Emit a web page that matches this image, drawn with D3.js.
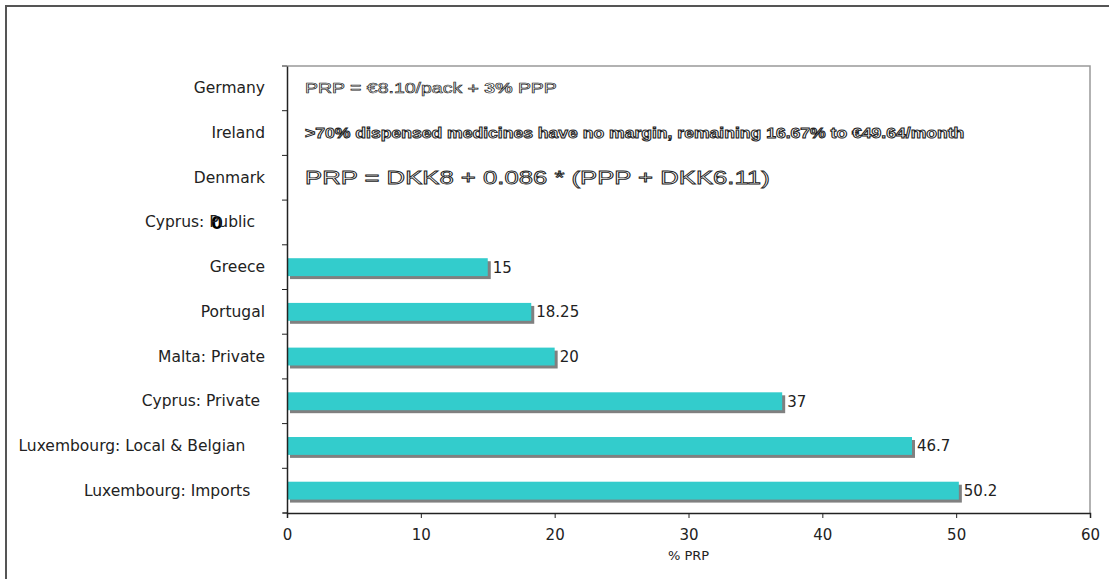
<!DOCTYPE html>
<html><head><meta charset="utf-8">
<script src="https://cdn.jsdelivr.net/npm/d3@7"></script>
<style>body{margin:0;background:#fff}svg{display:block}text{white-space:pre}</style>
</head><body>
<script>
const categories = ["Germany","Ireland","Denmark","Cyprus: Public  ","Greece","Portugal","Malta: Private","Cyprus: Private ","Luxembourg: Local & Belgian    ","Luxembourg: Imports   "];
const values = [null,null,null,0,15,18.25,20,37,46.7,50.2];
const valueLabels = [null,null,null,"0","15","18.25","20","37","46.7","50.2"];
const xTicks = [0,10,20,30,40,50,60];
const xTitle = "% PRP";
const notes = [
  {cat:"Germany", parts:[["PRP = €8.10/pack + ",false],["3%",true],[" PPP",false]], size:14, width:252},
  {cat:"Ireland", parts:[[">70% dispensed medicines have no margin, remaining 16.67% to €49.64/month",true]], size:14, width:660},
  {cat:"Denmark", parts:[["PRP = DKK8 + 0.086 * (PPP + DKK6.11)",false]], size:18, width:465}
];

const W=1109,H=579;
const m={l:287,t:66,r:W-1090,b:H-513};
const svg=d3.select("body").append("svg").attr("width",W).attr("height",H);
svg.append("rect").attr("x",6).attr("y",6).attr("width",W+10).attr("height",H+10)
  .attr("fill","none").attr("stroke","#555").attr("stroke-width",2);

const x=d3.scaleLinear().domain([0,60]).range([m.l,W-m.r]);
const y=d3.scaleBand().domain(categories).range([m.t,H-m.b]).paddingInner(0.6).paddingOuter(0.3);
const yb=d3.scaleBand().domain(categories).range([m.t,H-m.b]);

svg.append("path").attr("d",`M${m.l},${m.t}H${W-m.r}V${H-m.b}`).attr("fill","none").attr("stroke","#999").attr("stroke-width",1.5);

const font="DejaVu Sans, Verdana, sans-serif";
const data=categories.map((c,i)=>({c,v:values[i],l:valueLabels[i]}));
const bars=data.filter(d=>d.v!==null&&d.v>0);
svg.selectAll("rect.sh").data(bars).join("rect").attr("class","sh")
  .attr("x",x(0)+3).attr("y",d=>y(d.c)+3).attr("width",d=>x(d.v)-x(0)).attr("height",y.bandwidth())
  .attr("fill","#808080");
svg.selectAll("rect.bar").data(bars).join("rect").attr("class","bar")
  .attr("x",x(0)+1).attr("y",d=>y(d.c)).attr("width",d=>x(d.v)-x(0)-1).attr("height",y.bandwidth())
  .attr("fill","#33CCCC");
svg.selectAll("text.vl").data(bars).join("text").attr("class","vl")
  .attr("x",d=>x(d.v)+5).attr("y",d=>y(d.c)+y.bandwidth()/2).attr("dy","0.36em")
  .attr("font-family",font).attr("font-size",15).attr("fill","#222").text(d=>d.l);
data.filter(d=>d.v===0).forEach(d=>{
  svg.append("text").attr("x",x(d.v)-70).attr("y",yb(d.c)+yb.bandwidth()/2).attr("dy","0.36em")
    .attr("text-anchor","middle").attr("font-family",font).attr("font-weight","bold")
    .attr("font-size",17).attr("fill","#000").text(d.l);
});

const xa=svg.append("g").attr("transform",`translate(0,${H-m.b})`)
  .call(d3.axisBottom(x).tickValues(xTicks).tickSizeOuter(0).tickSize(5).tickPadding(11));
xa.select(".domain").attr("stroke","#222").attr("stroke-width",1.5);
xa.selectAll("line").attr("stroke","#222");
xa.selectAll("text").attr("font-family",font).attr("font-size",15).attr("fill","#222");
svg.append("line").attr("x1",m.l-4).attr("x2",m.l).attr("y1",H-m.b).attr("y2",H-m.b).attr("stroke","#222");

const ya=svg.append("g").attr("transform",`translate(${m.l},0)`)
  .call(d3.axisLeft(yb).tickSize(0).tickPadding(22));
ya.select(".domain").attr("stroke","#222").attr("stroke-width",1.5);
ya.selectAll("text").attr("font-family",font).attr("font-size",15.5).attr("fill","#222");
const bounds=categories.map(c=>yb(c)).concat([H-m.b]);
svg.selectAll("line.bt").data(bounds).join("line").attr("class","bt")
  .attr("x1",m.l-5).attr("x2",m.l).attr("y1",d=>d).attr("y2",d=>d).attr("stroke","#222");

svg.append("text").attr("x",(x(0)+x(60))/2).attr("y",560).attr("text-anchor","middle")
  .attr("font-family",font).attr("font-size",13).attr("fill","#222").text(xTitle);

notes.forEach((n,i)=>{
  const cy=yb(n.cat)+yb.bandwidth()/2;
  const g=svg.append("g");
  const t=g.append("text").attr("x",0).attr("y",0).attr("dy","0.35em")
    .attr("font-family","Liberation Sans, Arial, sans-serif").attr("font-size",n.size)
    .attr("fill","#fff").attr("stroke","#222").attr("stroke-width",i===0?0.6:(n.size>16?0.8:0.9));
  n.parts.forEach(p=>t.append("tspan").attr("font-weight",p[1]?"bold":"normal").text(p[0]));
  const w=t.node().getComputedTextLength();
  g.attr("transform",`translate(305,${cy}) scale(${n.width/w},1)`);
});
</script>
</body></html>
